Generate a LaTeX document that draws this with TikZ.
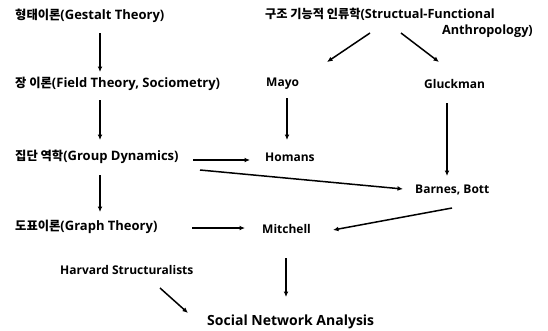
\documentclass[tikz,border=0pt]{standalone}
\usepackage{fontspec}
\setmainfont{Open Sans}
\newfontfamily\kr{Noto Sans CJK KR}
\newcommand\hk[1]{{\kr\fontsize{12.3}{14}\selectfont #1}}
\usetikzlibrary{arrows.meta,calc}
\begin{document}
\begin{tikzpicture}[x=1pt,y=-1pt,
  lbl/.style={font=\bfseries\fontsize{13}{17}\selectfont, inner sep=0pt, anchor=west},
  who/.style={lbl, font=\bfseries\fontsize{12}{14}\selectfont},
  big/.style={lbl, font=\bfseries\fontsize{14}{16}\selectfont},
  top/.style={lbl, font=\bfseries\fontsize{12.7}{15}\selectfont},
  arr/.style={-{Latex[length=5.5pt,width=4.8pt]}, line width=1.5pt}]
\useasboundingbox[fill=white] (0,0) rectangle (548,330);
\node[lbl] (gestalt) at (15,16) {\hk{형태이론}(Gestalt Theory)};
\node[lbl] (field) at (15,84) {\hk{장 이론}(Field Theory, Sociometry)};
\node[lbl] (group) at (15,157) {\hk{집단 역학}(Group Dynamics)};
\node[lbl] (graph) at (15,227) {\hk{도표이론}(Graph Theory)};
\node[who] (harvard) at (60,270) {Harvard Structuralists};
\node[top] (struct) at (265,14) {{\kr\fontsize{12.2}{14}\selectfont 구조 기능적 인류학}(Structual-Functional};
\node[top, anchor=east] (struct2) at (533,31) {Anthropology)};
\node[who] (mayo) at (266,84) {Mayo};
\node[who] (gluck) at (424,84) {Gluckman};
\node[who] (homans) at (265,157) {Homans};
\node[who] (barnes) at (415,190) {Barnes, Bott};
\node[who] (mitchell) at (262,229) {Mitchell};
\node[big] (sna) at (207,322) {Social Network Analysis};

\draw[arr] ($(gestalt.west)+(85,17)$) -- ($(field.west)+(85,-12)$);
\draw[arr] ($(field.west)+(85,16)$) -- ($(group.west)+(85,-17)$);
\draw[arr] ($(group.west)+(85,18)$) -- ($(graph.west)+(85,-15)$);
\draw[arr] ($(struct.west)+(105,19)$) -- ($(mayo.west)+(61,-22)$);
\draw[arr] ($(struct.west)+(136,19)$) -- ($(gluck.west)+(15,-22)$);
\draw[arr] ($(mayo.west)+(21,14)$) -- ($(homans.west)+(22,-17)$);
\draw[arr] ($(gluck.west)+(23,19)$) -- ($(barnes.west)+(32,-14)$);
\draw[arr] ($(group.west)+(178,3)$) -- ($(homans.west)+(-15,3)$);
\draw[arr] ($(group.west)+(185,13)$) -- ($(barnes.west)+(-12,-1)$);
\draw[arr] ($(graph.west)+(177,1)$) -- ($(mitchell.west)+(-17,-1)$);
\draw[arr] ($(barnes.west)+(37,18)$) -- ($(mitchell.west)+(71,1)$);
\draw[arr] ($(mitchell.west)+(24,29)$) -- ($(sna.west)+(79,-25)$);
\draw[arr] ($(harvard.west)+(100,18)$) -- ($(sna.west)+(-19,-9)$);
\end{tikzpicture}
\end{document}
